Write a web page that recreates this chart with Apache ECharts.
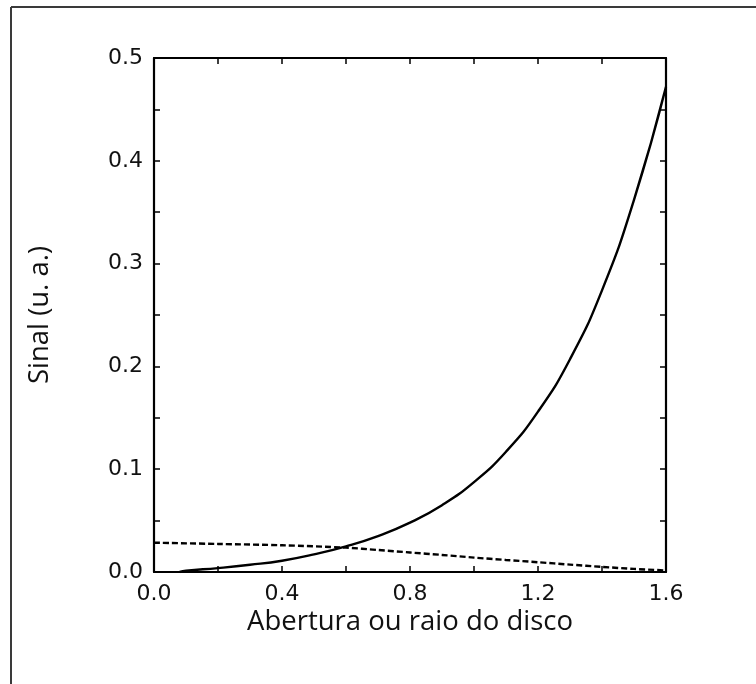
<!DOCTYPE html>
<html>
<head>
<meta charset="utf-8">
<title>Sinal vs abertura</title>
<script src="https://cdn.jsdelivr.net/npm/echarts@6/dist/echarts.min.js"></script>
<style>
  html, body { margin: 0; padding: 0; background: #fff; }
  #chart { width: 756px; height: 684px; }
</style>
</head>
<body>
<div id="chart"></div>
<script>
// Abertura / raio do disco (x) and the two signal curves
const xSolid = [0.08, 0.1, 0.2, 0.3, 0.4, 0.5, 0.6, 0.7, 0.8, 0.9, 1.0, 1.1, 1.2, 1.3, 1.4, 1.5, 1.6];
const solidSignal = [0.0, 0.0012, 0.0038, 0.007, 0.011, 0.0172, 0.025, 0.035, 0.048, 0.065, 0.0875, 0.117, 0.156, 0.207, 0.274, 0.362, 0.472];

const xDashed = [0.0, 0.2, 0.4, 0.6, 0.7, 0.8, 0.9, 1.0, 1.1, 1.2, 1.3, 1.4, 1.5, 1.6];
const dashedSignal = [0.0285, 0.0273, 0.026, 0.0237, 0.0214, 0.019, 0.0166, 0.014, 0.0117, 0.0095, 0.0072, 0.005, 0.003, 0.0015];

const xTickLabels = ['0.0', '0.4', '0.8', '1.2', '1.6'];
const yTickLabels = ['0.0', '0.1', '0.2', '0.3', '0.4', '0.5'];

const xTitle = 'Abertura ou raio do disco';
const yTitle = 'Sinal (u. a.)';

const pairs = (xs, ys) => xs.map((x, i) => [x, ys[i]]);

const tickFont = { fontFamily: 'DejaVu Sans', fontSize: 22, color: '#111' };
const axisLine = { show: true, onZero: false, lineStyle: { color: '#000', width: 2.2 } };
const inTick = { show: true, inside: true, length: 6, lineStyle: { color: '#000', width: 1.5 } };
const titleFont = '27.5px "Open Sans", Lato, sans-serif';

const chart = echarts.init(document.getElementById('chart'), null, { renderer: 'canvas' });

chart.setOption({
  animation: false,
  backgroundColor: '#fff',
  grid: { left: 154, right: 90, top: 58, bottom: 112, containLabel: false },
  graphic: [
    // page frame (top and left edges)
    { type: 'line', shape: { x1: 11, y1: 7, x2: 756, y2: 7 }, style: { stroke: '#3a3a3a', lineWidth: 2 }, silent: true },
    { type: 'line', shape: { x1: 11, y1: 7, x2: 11, y2: 684 }, style: { stroke: '#3a3a3a', lineWidth: 2 }, silent: true },
    {
      type: 'text', x: 410, y: 622,
      style: { text: xTitle, align: 'center', verticalAlign: 'middle', font: titleFont, fill: '#111' }
    },
    {
      type: 'text', x: 40, y: 315, rotation: Math.PI / 2,
      style: { text: yTitle, align: 'center', verticalAlign: 'middle', font: titleFont, fill: '#111' }
    }
  ],
  xAxis: [
    {
      type: 'value', min: 0, max: 1.6, interval: 0.2, position: 'bottom',
      axisLine, axisTick: inTick, splitLine: { show: false },
      axisLabel: {
        ...tickFont, margin: 11,
        formatter: v => { const s = v.toFixed(1); return xTickLabels.includes(s) ? s : ''; }
      }
    },
    {
      type: 'value', min: 0, max: 1.6, interval: 0.2, position: 'top',
      axisLine, axisTick: inTick, splitLine: { show: false }, axisLabel: { show: false }
    }
  ],
  yAxis: [
    {
      type: 'value', min: 0, max: 0.5, interval: 0.05, position: 'left',
      axisLine, axisTick: inTick, splitLine: { show: false },
      axisLabel: {
        ...tickFont, margin: 11,
        formatter: v => {
          const onTenth = Math.abs(v * 10 - Math.round(v * 10)) < 1e-6;
          const s = v.toFixed(1);
          return onTenth && yTickLabels.includes(s) ? s : '';
        }
      }
    },
    {
      type: 'value', min: 0, max: 0.5, interval: 0.05, position: 'right',
      axisLine, axisTick: inTick, splitLine: { show: false }, axisLabel: { show: false }
    }
  ],
  series: [
    {
      type: 'line', name: 'solid', data: pairs(xSolid, solidSignal),
      xAxisIndex: 0, yAxisIndex: 0,
      smooth: 0.5, showSymbol: false, symbol: 'none',
      lineStyle: { color: '#000', width: 2.4 }
    },
    {
      type: 'line', name: 'dashed', data: pairs(xDashed, dashedSignal),
      xAxisIndex: 1, yAxisIndex: 1,
      smooth: 0.3, showSymbol: false, symbol: 'none',
      lineStyle: { color: '#000', width: 2.4, type: [6, 3] }
    }
  ]
});
</script>
</body>
</html>
